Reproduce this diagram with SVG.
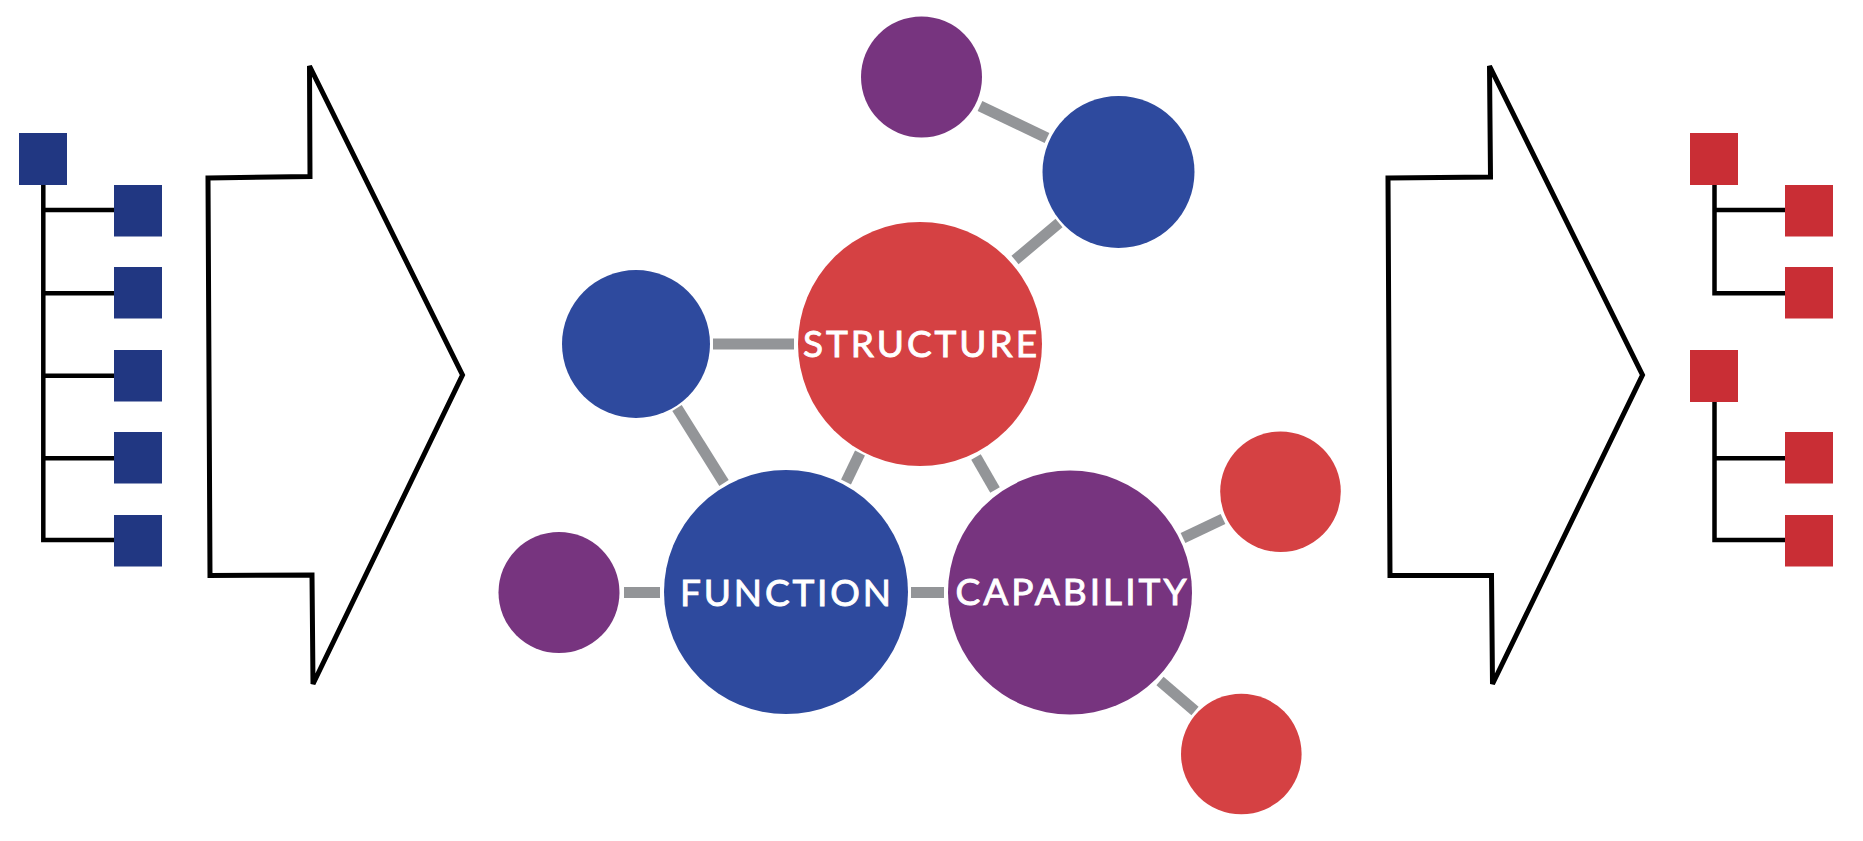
<svg xmlns="http://www.w3.org/2000/svg" width="1863" height="841" viewBox="0 0 1863 841">
<style>
.bg{fill:#ffffff}
.arrow{fill:#ffffff;stroke:#000000;stroke-width:5;stroke-linejoin:miter}
.tree{fill:none;stroke:#000000;stroke-width:4.5;stroke-linejoin:miter}
.sqb{fill:#213782}
.sqr{fill:#c92e35}
.cb{fill:#2e4a9e}
.cr{fill:#d54143}
.cp{fill:#77347f}
.link{stroke:#939598;stroke-width:11;fill:none}
.lbl{font-family:Lato,"Open Sans","Liberation Sans",sans-serif;font-size:37px;fill:#ffffff;stroke:#ffffff;stroke-width:0.9;text-anchor:middle}
</style>
<rect class="bg" x="0" y="0" width="1863" height="841"/>

<g id="left-tree">
  <path class="tree" d="M43.3,184 V540 H114 M43.3,210 H114 M43.3,293.3 H114 M43.3,375.7 H114 M43.3,458.3 H114"/>
  <rect class="sqb" x="19" y="133" width="48" height="52"/>
  <rect class="sqb" x="114" y="185" width="48" height="51.5"/>
  <rect class="sqb" x="114" y="267" width="48" height="51.5"/>
  <rect class="sqb" x="114" y="350" width="48" height="51.5"/>
  <rect class="sqb" x="114" y="432" width="48" height="51.5"/>
  <rect class="sqb" x="114" y="515" width="48" height="51.5"/>
</g>

<g id="left-arrow">
  <polygon class="arrow" points="208,178 310,176.5 309.5,66 462.5,375 313,684 312,575 210,575.5"/>
</g>

<g id="right-arrow">
  <polygon class="arrow" points="1388,178 1490.5,177 1489.5,66 1642.5,375 1492.5,684 1491.5,575.5 1390,575.5"/>
</g>

<g id="right-tree">
  <path class="tree" d="M1714.5,184 V293.3 H1785 M1714.5,210 H1785 M1714.5,401 V540 H1785 M1714.5,458.3 H1785"/>
  <rect class="sqr" x="1690" y="133" width="48" height="52"/>
  <rect class="sqr" x="1785" y="185" width="48" height="51.5"/>
  <rect class="sqr" x="1785" y="267" width="48" height="51.5"/>
  <rect class="sqr" x="1690" y="350" width="48" height="52"/>
  <rect class="sqr" x="1785" y="432" width="48" height="51.5"/>
  <rect class="sqr" x="1785" y="515" width="48" height="51.5"/>
</g>

<g id="connectors">
  <line class="link" x1="980" y1="106" x2="1047" y2="138"/>
  <line class="link" x1="1059" y1="223" x2="1015" y2="260"/>
  <line class="link" x1="713" y1="344" x2="794" y2="344"/>
  <line class="link" x1="677" y1="408" x2="724" y2="483"/>
  <line class="link" x1="860" y1="453" x2="846" y2="482"/>
  <line class="link" x1="976" y1="457" x2="995" y2="490"/>
  <line class="link" x1="624" y1="592.5" x2="660" y2="592.5"/>
  <line class="link" x1="911" y1="592.5" x2="944" y2="592.5"/>
  <line class="link" x1="1183" y1="538" x2="1223" y2="519"/>
  <line class="link" x1="1160" y1="681" x2="1195" y2="711"/>
</g>

<g id="node-top-purple"><circle class="cp" cx="921.5" cy="77" r="60.5"/></g>
<g id="node-top-blue"><circle class="cb" cx="1118.5" cy="172" r="76"/></g>
<g id="node-left-blue"><circle class="cb" cx="636" cy="344" r="74"/></g>
<g id="node-structure">
  <circle class="cr" cx="920" cy="344" r="122"/>
  <text class="lbl" x="920" y="356.5" textLength="234" lengthAdjust="spacing">STRUCTURE</text>
</g>
<g id="node-left-purple"><circle class="cp" cx="559" cy="592.5" r="60.5"/></g>
<g id="node-function">
  <circle class="cb" cx="786" cy="592" r="122"/>
  <text class="lbl" x="785.5" y="605.5" textLength="211" lengthAdjust="spacing">FUNCTION</text>
</g>
<g id="node-capability">
  <circle class="cp" cx="1070" cy="592.5" r="122"/>
  <text class="lbl" x="1071" y="605" textLength="231" lengthAdjust="spacing">CAPABILITY</text>
</g>
<g id="node-red-top"><circle class="cr" cx="1280.5" cy="491.7" r="60.3"/></g>
<g id="node-red-bottom"><circle class="cr" cx="1241.3" cy="754" r="60.3"/></g>
</svg>
